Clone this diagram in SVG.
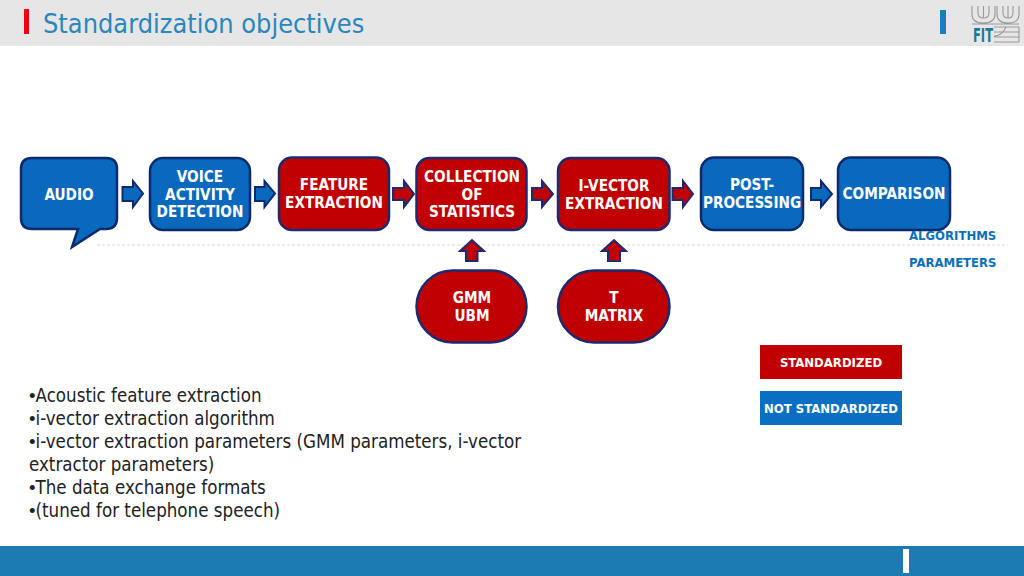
<svg xmlns="http://www.w3.org/2000/svg" width="1024" height="576" viewBox="0 0 1024 576">
<style>
text{font-family:"DejaVu Sans Condensed","DejaVu Sans","Liberation Sans",sans-serif}
.l{font-size:15.2px;font-weight:700;fill:#fff;text-anchor:middle}
.b{fill:#0a69bd;stroke:#0c2a6e;stroke-width:2.5}
.r{fill:#c00000;stroke:#1f2a6e;stroke-width:2.5}
.ab{fill:#0a69bd;stroke:#0c2a6e;stroke-width:2}
.ar{fill:#c00000;stroke:#1f2a6e;stroke-width:2}
.body{font-size:18.6px;fill:#222}
.bu{font-family:"Liberation Sans",sans-serif}
.leg{font-size:13px;font-weight:700;fill:#fff;text-anchor:middle}
.side{font-size:13px;font-weight:700;fill:#0b6fbe}
.logo{fill:none;stroke:#999;stroke-width:1.1}
</style>
<rect width="1024" height="46" fill="#e6e6e6"/>
<rect x="24" y="9" width="5" height="25" fill="#f00010"/>
<text x="43" y="32.500" font-size="26.900" fill="#2a86bd">Standardization objectives</text>
<rect x="940" y="10" width="6" height="24" fill="#1a7dbd"/>
<g id="logo">
<path class="logo" d="M972 6V14Q972 23 983 23Q995 23 995 14V6M978 6V13Q978 18 983.500 18Q989 18 989 13V6M983.500 6V18M997 6V14Q997 23 1008 23Q1019 23 1019 14V6M1003 6V13Q1003 18 1008 18Q1013 18 1013 13V6M1008 6V18M972 24H1019"/>
<path class="logo" d="M994 27H1019M994 32H1019M994 37H1019M994 42H1019M1019 27V42M994 36Q1002 36 1006 27"/>
<text x="983" y="42" font-size="20" font-weight="700" fill="#17799e" text-anchor="middle" textLength="20" lengthAdjust="spacingAndGlyphs">FIT</text>
</g>
<rect y="546" width="1024" height="30" fill="#1b7bb2"/>
<rect x="903" y="549" width="6" height="24" fill="#fff"/>
<line x1="97" y1="245" x2="1008" y2="245" stroke="#dcdcdc" stroke-width="1" stroke-dasharray="3 2"/>
<g id="connectors">
<path class="ab" d="M122.500 187H133V181L143 193.500L133 207V201H122.500Z"/>
<path class="ab" d="M255 187H264.500V181L275 193.500L264.500 207V201H255Z"/>
<path class="ar" d="M393 188H404V181L414 194L404 207V200H393Z"/>
<path class="ar" d="M532 188H542V181L553 194L542 207V200H532Z"/>
<path class="ar" d="M672.500 188H683V181L693 194L683 207V200H672.500Z"/>
<path class="ab" d="M811 188H821V181L832 194L821 207V200H811Z"/>
<path class="ar" d="M466 261V251H460L472 240L484 251H477.500V261Z"/>
<path class="ar" d="M608 261V251H602L614 240L626 251H620V261Z"/>
</g>
<g id="audio">
<path class="b" d="M32 158H106Q117 158 117 169V218Q117 229 106 229H100L72 247L78 229H32Q21 229 21 218V169Q21 158 32 158Z"/>
<text class="l" x="69" y="200">AUDIO</text>
</g>
<g id="vad">
<rect class="b" x="150" y="158" width="100" height="72" rx="13"/>
<text class="l" x="200" y="182">VOICE</text><text class="l" x="200" y="199.500">ACTIVITY</text><text class="l" x="200" y="217">DETECTION</text>
</g>
<g id="feature">
<rect class="r" x="279" y="157.500" width="110" height="72.500" rx="13"/>
<text class="l" x="334" y="190">FEATURE</text><text class="l" x="334" y="208">EXTRACTION</text>
</g>
<g id="collection">
<rect class="r" x="416.500" y="158" width="110" height="72" rx="13"/>
<text class="l" x="472" y="182">COLLECTION</text><text class="l" x="472" y="200">OF</text><text class="l" x="472" y="217">STATISTICS</text>
</g>
<g id="ivector">
<rect class="r" x="558" y="158" width="111.500" height="72" rx="13"/>
<text class="l" x="614" y="191">I-VECTOR</text><text class="l" x="614" y="208.500">EXTRACTION</text>
</g>
<g id="post">
<rect class="b" x="701" y="157.500" width="102" height="72.500" rx="13"/>
<text class="l" x="752" y="190">POST-</text><text class="l" x="752" y="208">PROCESSING</text>
</g>
<g id="comparison">
<rect class="b" x="838" y="157.500" width="112" height="72.500" rx="13"/>
<text class="l" x="894" y="199">COMPARISON</text>
</g>
<g id="gmm">
<rect class="r" x="416.500" y="270.500" width="110" height="72" rx="36"/>
<text class="l" x="472" y="303">GMM</text><text class="l" x="472" y="321">UBM</text>
</g>
<g id="tmatrix">
<rect class="r" x="558" y="270.500" width="111.500" height="72" rx="36"/>
<text class="l" x="614" y="303">T</text><text class="l" x="614" y="321">MATRIX</text>
</g>
<text class="side" x="909" y="240">ALGORITHMS</text>
<text class="side" x="909" y="266.500">PARAMETERS</text>
<g id="legend-standardized">
<rect x="760" y="345" width="142" height="34" fill="#c00000"/>
<text class="leg" x="831" y="366.500">STANDARDIZED</text>
</g>
<g id="legend-not-standardized">
<rect x="760" y="391" width="142" height="34" fill="#0a6fc2"/>
<text class="leg" x="831" y="412.500">NOT STANDARDIZED</text>
</g>
<g>
<text class="body" x="29" y="402"><tspan class="bu">•</tspan>Acoustic feature extraction</text>
<text class="body" x="29" y="425"><tspan class="bu">•</tspan>i-vector extraction algorithm</text>
<text class="body" x="29" y="448"><tspan class="bu">•</tspan>i-vector extraction parameters (GMM parameters, i-vector</text>
<text class="body" x="29" y="471">extractor parameters)</text>
<text class="body" x="29" y="494"><tspan class="bu">•</tspan>The data exchange formats</text>
<text class="body" x="29" y="517"><tspan class="bu">•</tspan>(tuned for telephone speech)</text>
</g>
</svg>
